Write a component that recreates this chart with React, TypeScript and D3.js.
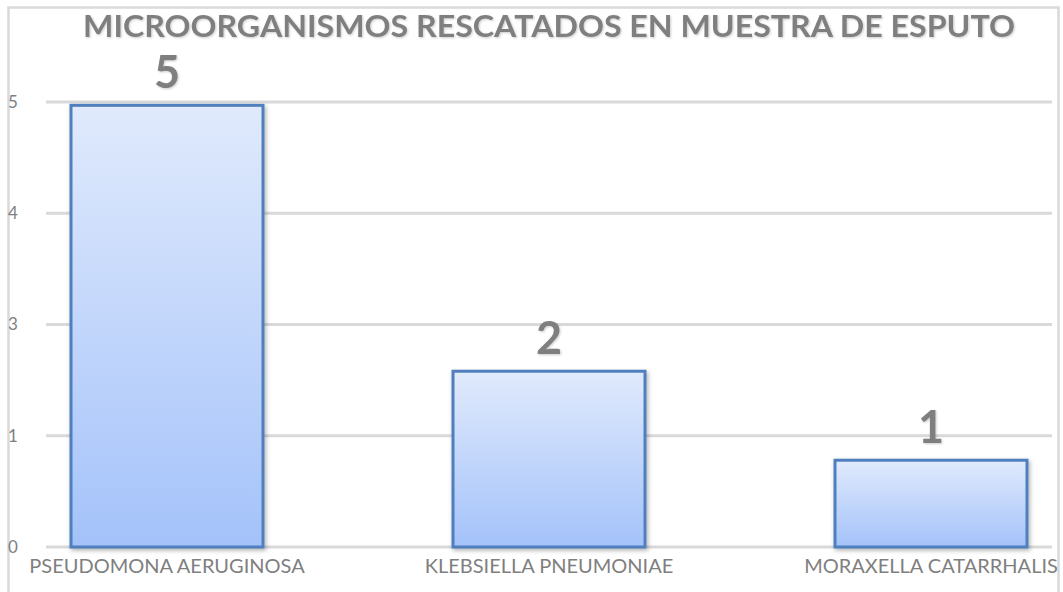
import React from 'react';
import * as d3 from 'd3';

const categories = ['PSEUDOMONA AERUGINOSA', 'KLEBSIELLA PNEUMONIAE', 'MORAXELLA CATARRHALIS'];
// numbers printed above the bars
const counts = [5, 2, 1];
// bar heights as drawn, in gridline steps (the axis is labelled 0,1,3,4,5)
const barHeights = [3.97, 1.58, 0.78];
const tickLabels = ['0', '1', '3', '4', '5'];
const title = 'MICROORGANISMOS RESCATADOS EN MUESTRA DE ESPUTO';

const W = 1063;
const H = 592;
const gray = '#7f7f7f';

export default function App() {
  const x = d3.scalePoint<string>().domain(categories).range([167, 931]);
  const y = d3.scaleLinear().domain([0, tickLabels.length - 1]).range([547, 102]);
  const barW = 192;
  const ticks = d3.range(tickLabels.length);

  return (
    <div>
      <style>{`body{margin:0}`}</style>
      <svg width={W} height={H} style={{ display: 'block', fontFamily: 'Lato, "Open Sans", sans-serif' }}>
        <defs>
          <linearGradient id="barFill" x1="0" y1="0" x2="0" y2="1">
            <stop offset="0" stopColor="#e0eafc" />
            <stop offset="1" stopColor="#a4c2fa" />
          </linearGradient>
          <filter id="shadow" x="-10%" y="-10%" width="120%" height="120%">
            <feDropShadow dx="1.5" dy="2" stdDeviation="2" floodColor="#000" floodOpacity="0.3" />
          </filter>
          <filter id="txtShadow" x="-20%" y="-20%" width="140%" height="140%">
            <feDropShadow dx="1" dy="1" stdDeviation="0.8" floodColor="#000" floodOpacity="0.2" />
          </filter>
        </defs>
        <rect x={0} y={0} width={W} height={H} fill="#fff" />
        <rect x={8.5} y={7.5} width={1050} height={600} fill="none" stroke="#d9d9d9" strokeWidth={2.5} />

        <text x={549} y={37} textAnchor="middle" fontSize={31} fontWeight={700} fill={gray}
          textLength={932} lengthAdjust="spacingAndGlyphs" filter="url(#txtShadow)">{title}</text>

        {ticks.map(t => (
          <g key={t}>
            <line x1={46} x2={1052} y1={y(t)} y2={y(t)} stroke="#d9d9d9" strokeWidth={3} />
            <text x={8} y={y(t)} dy="0.35em" fontSize={17} fill={gray}>{tickLabels[t]}</text>
          </g>
        ))}

        {categories.map((c, i) => (
          <g key={c}>
            <rect x={x(c)! - barW / 2} y={y(barHeights[i])} width={barW} height={y(0) - y(barHeights[i])}
              fill="url(#barFill)" stroke="#4f7fbd" strokeWidth={3} filter="url(#shadow)" />
            <text x={x(c)!} y={y(barHeights[i]) - 17} textAnchor="middle" fontSize={45} fontWeight={700}
              fill={gray} filter="url(#txtShadow)">{counts[i]}</text>
            <text x={x(c)!} y={573} textAnchor="middle" fontSize={20} fill={gray}>{c}</text>
          </g>
        ))}
      </svg>
    </div>
  );
}
